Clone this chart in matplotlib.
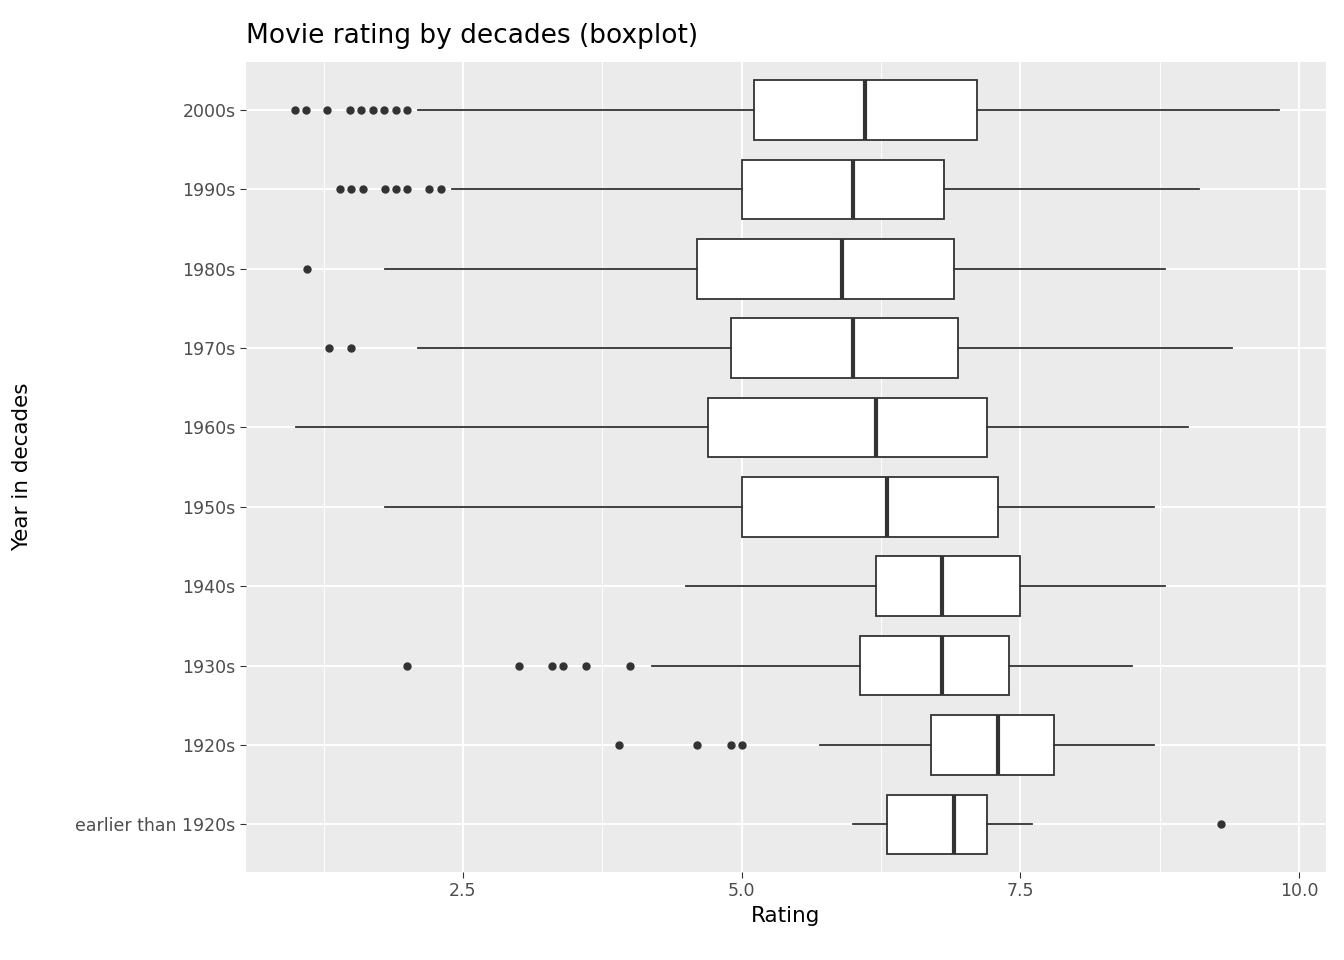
import matplotlib.pyplot as plt

decades = ["earlier than 1920s", "1920s", "1930s", "1940s", "1950s",
           "1960s", "1970s", "1980s", "1990s", "2000s"]
whislo = [6.0, 5.7, 4.2, 4.5, 1.8, 1.0, 2.1, 1.8, 2.4, 2.1]
q1 = [6.3, 6.7, 6.06, 6.2, 5.0, 4.7, 4.9, 4.6, 5.0, 5.11]
med = [6.9, 7.3, 6.8, 6.8, 6.3, 6.2, 6.0, 5.9, 6.0, 6.11]
q3 = [7.2, 7.8, 7.4, 7.5, 7.3, 7.2, 6.94, 6.9, 6.81, 7.11]
whishi = [7.6, 8.7, 8.5, 8.8, 8.7, 9.0, 9.4, 8.8, 9.1, 9.82]
fliers = [
    [9.3],
    [3.9, 4.6, 4.9, 5.0],
    [2.0, 3.0, 3.3, 3.4, 3.6, 4.0],
    [], [], [],
    [1.3, 1.5],
    [1.1],
    [1.4, 1.5, 1.6, 1.8, 1.9, 2.0, 2.2, 2.3],
    [0.99, 1.09, 1.28, 1.49, 1.59, 1.69, 1.79, 1.9, 2.0],
]

stats = [dict(label=d, whislo=a, q1=b, med=c, q3=e, whishi=f, fliers=g)
         for d, a, b, c, e, f, g in zip(decades, whislo, q1, med, q3, whishi, fliers)]

fig = plt.figure(figsize=(13.44, 9.6), dpi=100)
ax = fig.add_axes([0.183, 0.0917, 0.8036, 0.8433])
ax.set_facecolor("#EBEBEB")
ax.grid(True, which="major", color="white", lw=1.4)
ax.grid(True, which="minor", axis="x", color="white", lw=0.7)
ax.set_axisbelow(True)

c = "#333333"
ax.bxp(stats, vert=False, widths=0.75, patch_artist=True, showcaps=False,
       boxprops=dict(facecolor="white", edgecolor=c, lw=1.3),
       medianprops=dict(color=c, lw=3),
       whiskerprops=dict(color=c, lw=1.3),
       flierprops=dict(marker="o", markerfacecolor=c, markeredgecolor=c, markersize=5))

ax.set_xlim(0.554, 10.24)
ax.set_ylim(0.4, 10.6)
ax.set_xticks([2.5, 5.0, 7.5, 10.0])
ax.set_xticklabels(["2.5", "5.0", "7.5", "10.0"])
ax.set_xticks([1.25, 3.75, 6.25, 8.75], minor=True)
ax.tick_params(axis="x", which="minor", length=0)
ax.tick_params(colors="#4D4D4D", labelsize=12.5, length=4, color="#333333")
for s in ax.spines.values():
    s.set_visible(False)
ax.set_xlabel("Rating", fontsize=15.5)
ax.set_ylabel("Year in decades", fontsize=15.5)
ax.yaxis.set_label_coords(-0.198, 0.5)
ax.set_title("Movie rating by decades (boxplot)", fontsize=19, loc="left", pad=14)

plt.savefig("out.png")
